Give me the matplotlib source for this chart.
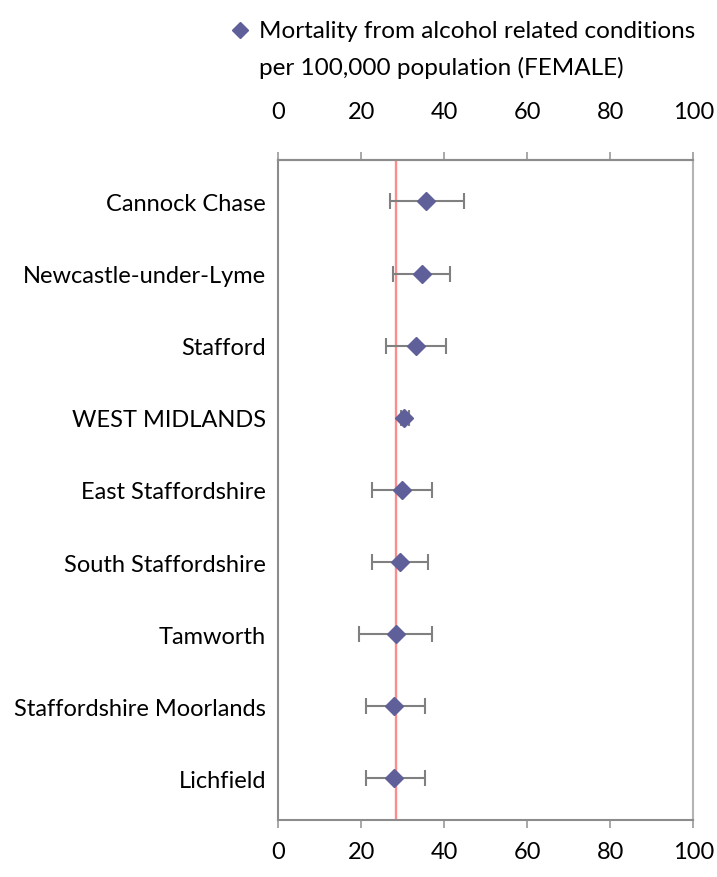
import matplotlib
matplotlib.use("Agg")
import matplotlib.pyplot as plt
from matplotlib.lines import Line2D

areas = [
    "Cannock Chase",
    "Newcastle-under-Lyme",
    "Stafford",
    "WEST MIDLANDS",
    "East Staffordshire",
    "South Staffordshire",
    "Tamworth",
    "Staffordshire Moorlands",
    "Lichfield",
]
rate = [35.6, 34.7, 33.2, 30.3, 29.8, 29.3, 28.4, 27.9, 27.9]
lower_ci = [26.9, 27.6, 26.0, 29.5, 22.5, 22.5, 19.3, 21.2, 21.2]
upper_ci = [44.8, 41.4, 40.4, 31.4, 37.0, 36.1, 37.0, 35.2, 35.2]
england_rate = 28.3
x_ticks = [0, 20, 40, 60, 80, 100]

plt.rcParams["font.family"] = ["Lato", "DejaVu Sans"]
FS = 17

fig = plt.figure(figsize=(7.17, 8.78), dpi=100)
ax = fig.add_axes([0.3884, 0.0647, 0.5786, 0.7523])

pos = list(range(len(areas)))
err = [[r - lo for r, lo in zip(rate, lower_ci)],
       [hi - r for r, hi in zip(rate, upper_ci)]]

ax.axvline(england_rate, color="#ff8c8c", lw=1.7, zorder=1)
ax.errorbar(rate, pos, xerr=err, fmt="none", ecolor="#808080",
            elinewidth=1.5, capsize=5.5, capthick=1.5, zorder=2)
ax.plot(rate, pos, "D", color="#5f5f99", markersize=9.5, zorder=3)

ax.set_xlim(0, 100)
ax.set_ylim(len(areas) - 1 + 0.58, -0.58)
ax.set_xticks(x_ticks)
ax.set_yticks(pos)
ax.set_yticklabels(areas)

ax.tick_params(axis="x", direction="out", length=6, width=1.2,
               color="#9a9a9a", labelsize=FS, pad=9)
ax.tick_params(axis="y", length=0, labelsize=FS, pad=9)

# duplicate scale on top, set further away from the frame
top = ax.secondary_xaxis("top")
top.set_xticks(x_ticks)
top.tick_params(direction="out", length=6, width=1.2, color="#9a9a9a",
                labelsize=FS, pad=21)
top.spines["top"].set_color("#8c8c8c")
top.spines["top"].set_linewidth(1.5)

for side in ["left", "top", "bottom"]:
    ax.spines[side].set_color("#8c8c8c")
    ax.spines[side].set_linewidth(1.5)
ax.spines["right"].set_color("#b4b4b4")
ax.spines["right"].set_linewidth(1.5)

# legend key and two-line caption above the axis
fig.add_artist(Line2D([240 / 717], [1 - 31 / 878], marker="D", color="#5f5f99",
                      markersize=8.5, linestyle="none",
                      transform=fig.transFigure))
fig.text(259 / 717, 1 - 32 / 878, "Mortality from alcohol related conditions",
         fontsize=17.5, ha="left", va="center")
fig.text(259 / 717, 1 - 68 / 878, "per 100,000 population (FEMALE)",
         fontsize=17.5, ha="left", va="center")

fig.savefig("out.png", dpi=100)
